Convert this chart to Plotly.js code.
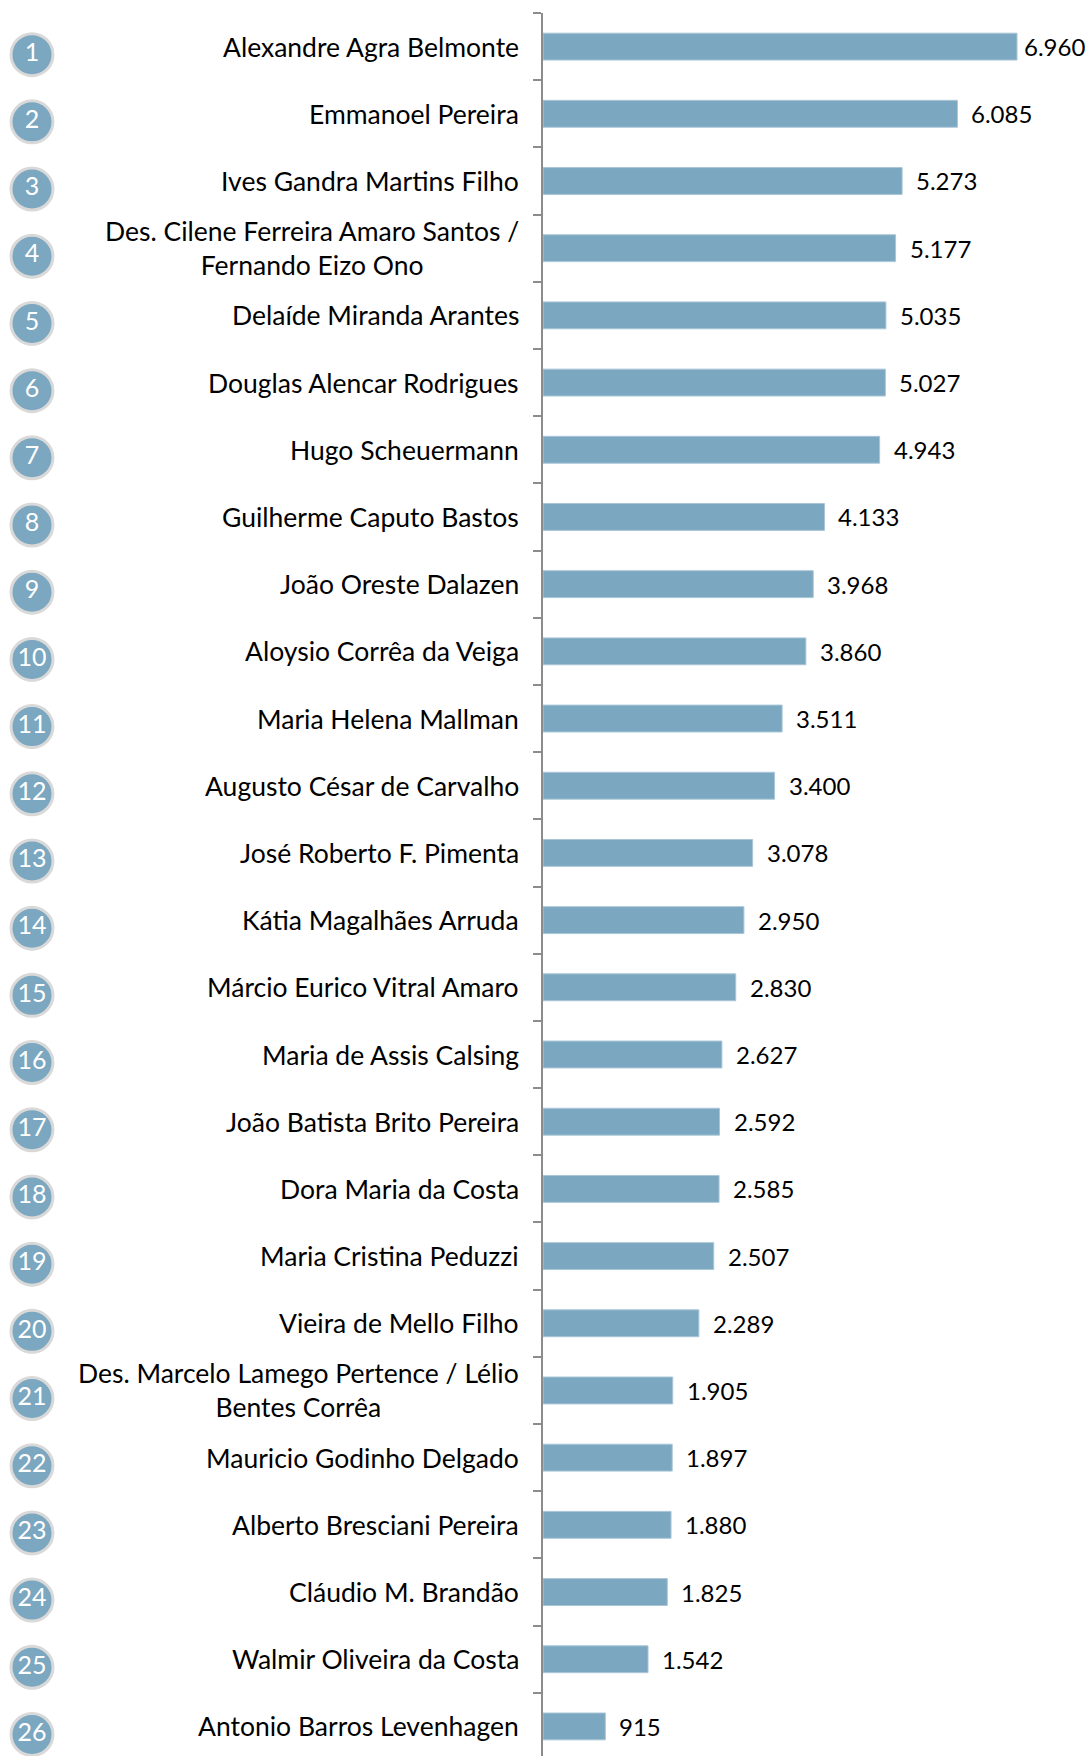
<!DOCTYPE html>
<html>
<head>
<meta charset="utf-8">
<script src="https://cdn.plot.ly/plotly-3.0.1.min.js"></script>
<style>html,body{margin:0;padding:0;background:#fff;}#chart{width:1086px;height:1756px;}</style>
</head>
<body>
<div id="chart"></div>
<script>
const categories = [
  "Alexandre Agra Belmonte",
  "Emmanoel Pereira",
  "Ives Gandra Martins Filho",
  "Des. Cilene Ferreira Amaro Santos /<br>Fernando Eizo Ono",
  "Delaíde Miranda Arantes",
  "Douglas Alencar Rodrigues",
  "Hugo Scheuermann",
  "Guilherme Caputo Bastos",
  "João Oreste Dalazen",
  "Aloysio Corrêa da Veiga",
  "Maria Helena Mallman",
  "Augusto César de Carvalho",
  "José Roberto F. Pimenta",
  "Kátia Magalhães Arruda",
  "Márcio Eurico Vitral Amaro",
  "Maria de Assis Calsing",
  "João Batista Brito Pereira",
  "Dora Maria da Costa",
  "Maria Cristina Peduzzi",
  "Vieira de Mello Filho",
  "Des. Marcelo Lamego Pertence / Lélio<br>Bentes Corrêa",
  "Mauricio Godinho Delgado",
  "Alberto Bresciani Pereira",
  "Cláudio M. Brandão",
  "Walmir Oliveira da Costa",
  "Antonio Barros Levenhagen"
];
const values = [6960, 6085, 5273, 5177, 5035, 5027, 4943, 4133, 3968, 3860, 3511, 3400, 3078, 2950, 2830, 2627, 2592, 2585, 2507, 2289, 1905, 1897, 1880, 1825, 1542, 915];
const ranks = [1,2,3,4,5,6,7,8,9,10,11,12,13,14,15,16,17,18,19,20,21,22,23,24,25,26];

const BAR = '#7ba7c0';
const FONT = 'Lato, "Open Sans", sans-serif';

function fmt(v) { return String(v).replace(/\B(?=(\d{3})+(?!\d))/g, '.'); }

const n = categories.length;
const yRange = [n - 1 + 0.44, -0.5];
const axisX = 543 / 1086;
const vmax = Math.max(...values);

const traces = [
  {
    type: 'bar', orientation: 'h',
    x: values, y: categories,
    marker: { color: BAR, line: { color: '#a9c6d7', width: 1 } },
    width: 0.4,
    hoverinfo: 'x+y',
    xaxis: 'x', yaxis: 'y'
  },
  {
    type: 'scatter', mode: 'markers+text',
    x: categories.map(() => 0.5), y: categories,
    text: ranks.map(String),
    textposition: 'middle center',
    textfont: { family: FONT, size: 25, color: '#ffffff' },
    marker: { size: 42, color: BAR, line: { color: '#d9d9d9', width: 3 } },
    hoverinfo: 'skip',
    xaxis: 'x2', yaxis: 'y2',
    cliponaxis: false
  }
];

const annotations = [];
categories.forEach((c, i) => {
  annotations.push({
    xref: 'paper', yref: 'y', x: axisX, y: c,
    xanchor: 'right', yanchor: 'middle', xshift: -22,
    text: c, showarrow: false, align: 'center',
    font: { family: FONT, size: 26.5, color: '#000' }
  });
  annotations.push({
    xref: 'x', yref: 'y', x: values[i], y: c,
    xanchor: 'left', yanchor: 'middle', xshift: values[i] === vmax ? 5 : 12,
    text: fmt(values[i]), showarrow: false,
    font: { family: FONT, size: 24, color: '#000' }
  });
});

const layout = {
  width: 1086, height: 1756,
  margin: { l: 0, r: 0, t: 13, b: 0 },
  paper_bgcolor: '#ffffff', plot_bgcolor: '#ffffff',
  showlegend: false,
  bargap: 0.6,
  xaxis: { domain: [axisX, 1], range: [0, 7973], visible: false, fixedrange: true },
  yaxis: {
    type: 'category', categoryorder: 'array', categoryarray: categories,
    range: yRange, showline: true, linecolor: '#8c8c8c', linewidth: 2,
    ticks: 'outside', tickson: 'boundaries', ticklen: 8, tickcolor: '#8c8c8c', tickwidth: 2,
    showticklabels: false, showgrid: false, zeroline: false
  },
  xaxis2: { domain: [0, 64 / 1086], range: [0, 1], visible: false, anchor: 'y2' },
  yaxis2: {
    type: 'category', categoryorder: 'array', categoryarray: categories,
    range: [yRange[0] - 0.12, yRange[1] - 0.12], visible: false, anchor: 'x2', overlaying: 'y'
  },
  annotations: annotations
};

Plotly.newPlot('chart', traces, layout, { displayModeBar: false, staticPlot: true });
</script>
</body>
</html>
